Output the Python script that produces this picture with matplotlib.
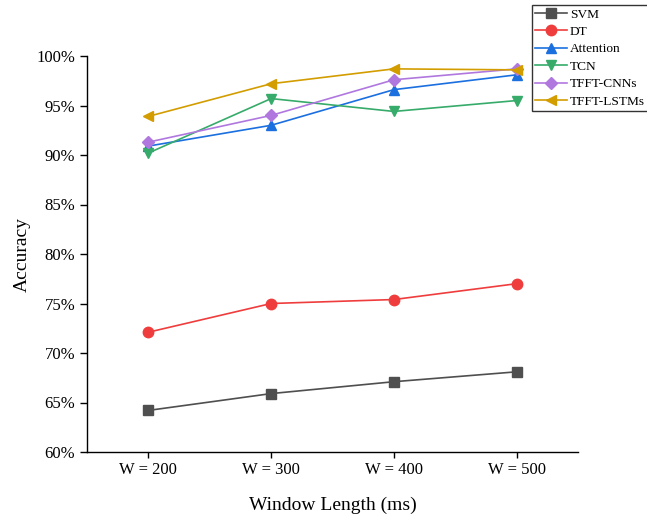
import matplotlib
matplotlib.use("Agg")
import matplotlib.pyplot as plt
from matplotlib.ticker import FuncFormatter

plt.rcParams['font.family'] = ['Liberation Serif', 'DejaVu Serif']
plt.rcParams['mathtext.fontset'] = 'stix'

categories = ["W = 200", "W = 300", "W = 400", "W = 500"]
svm = [64.2, 65.9, 67.1, 68.1]
dt = [72.1, 75.0, 75.4, 77.0]
attention = [90.9, 93.0, 96.6, 98.1]
tcn = [90.2, 95.7, 94.4, 95.5]
tfft_cnns = [91.3, 94.0, 97.6, 98.7]
tfft_lstms = [93.9, 97.2, 98.7, 98.6]

series = [
    ("SVM", svm, "#4f4f4f", "s"),
    ("DT", dt, "#ef3d3d", "o"),
    ("Attention", attention, "#1b6fdf", "^"),
    ("TCN", tcn, "#36ab6a", "v"),
    ("TFFT-CNNs", tfft_cnns, "#b078df", "D"),
    ("TFFT-LSTMs", tfft_lstms, "#d39d00", "<"),
]

fig = plt.figure(figsize=(6.47, 5.16), dpi=100)
ax = fig.add_axes([87/647, 64/516, (578-87)/647, (452-56)/516])

x = list(range(len(categories)))
for name, vals, col, mk in series:
    ms = 6.5 if mk == "D" else 7.5
    ax.plot(x, vals, color=col, marker=mk, markersize=ms, linewidth=1.2, label=name)

ax.set_xlim(-0.5, 3.5)
ax.set_ylim(60, 100)
ax.set_xticks(x)
ax.set_xticklabels(categories)
ax.set_yticks(range(60, 101, 5))
ax.yaxis.set_major_formatter(FuncFormatter(lambda v, p: f"{int(v)}%"))
ax.spines['top'].set_visible(False)
ax.spines['right'].set_visible(False)
for s in ['left', 'bottom']:
    ax.spines[s].set_linewidth(1.0)
ax.tick_params(axis='both', direction='out', labelsize=12, width=1.0)
ax.tick_params(axis='y', length=5)
ax.tick_params(axis='x', length=4)
ax.set_xlabel("Window Length (ms)", fontsize=14, labelpad=13)
ax.set_ylabel("Accuracy", fontsize=14, labelpad=4)

leg = fig.legend(loc='upper left', bbox_to_anchor=(532/647, 1 - 5/516),
                 bbox_transform=fig.transFigure, fontsize=9.6, frameon=True,
                 fancybox=False, edgecolor='black', borderpad=0.25,
                 labelspacing=0.38, handlelength=2.4, handletextpad=0.2,
                 borderaxespad=0)
leg.get_frame().set_linewidth(1.0)

fig.savefig("out.png", dpi=100)
